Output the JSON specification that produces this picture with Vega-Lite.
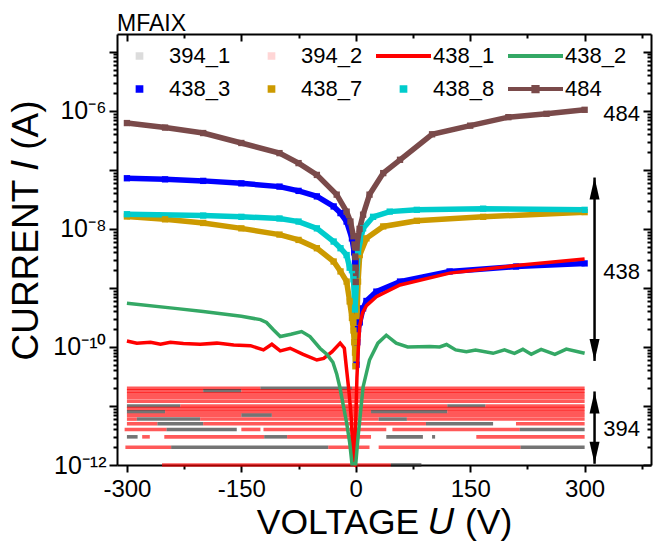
{
  "$schema": "https://vega.github.io/schema/vega-lite/v6.json",
  "width": 534,
  "height": 431,
  "autosize": {"type": "none"},
  "padding": {"left": 117, "top": 34, "right": 11, "bottom": 79},
  "background": "white",
  "config": {
    "view": {"stroke": null},
    "font": "Liberation Sans",
    "axis": {"grid": false, "domainColor": "black", "tickColor": "black", "labelColor": "black", "titleColor": "black", "labelFont": "Liberation Sans", "titleFont": "Liberation Sans", "titleFontWeight": "normal", "domainWidth": 2, "tickWidth": 2, "labelFlush": false, "labelOverlap": false}
  },
  "title": {"text": "MFAIX", "anchor": "start", "frame": "group", "fontSize": 23, "fontWeight": "normal", "font": "Liberation Sans", "color": "black", "offset": 4, "baseline": "alphabetic", "dy": 25},
  "datasets": {
    "bands": [
      {"s": "394_2", "i": 2e-11, "v0": -300, "v1": -125}, {"s": "394_1", "i": 2e-11, "v0": -125, "v1": -5}, {"s": "394_2", "i": 2e-11, "v0": -5, "v1": 300},
      {"s": "394_2", "i": 1.8e-11, "v0": -300, "v1": -200}, {"s": "394_1", "i": 1.8e-11, "v0": -200, "v1": -150}, {"s": "394_2", "i": 1.8e-11, "v0": -150, "v1": 300},
      {"s": "394_2", "i": 1.6e-11, "v0": -300, "v1": 300},
      {"s": "394_2", "i": 1.4e-11, "v0": -300, "v1": 300},
      {"s": "394_2", "i": 1.2e-11, "v0": -300, "v1": 300},
      {"s": "394_1", "i": 1e-11, "v0": -300, "v1": -230}, {"s": "394_2", "i": 1e-11, "v0": -230, "v1": 120}, {"s": "394_1", "i": 1e-11, "v0": 120, "v1": 170}, {"s": "394_2", "i": 1e-11, "v0": 170, "v1": 300},
      {"s": "394_2", "i": 9e-12, "v0": -300, "v1": 300},
      {"s": "394_1", "i": 8e-12, "v0": -300, "v1": -250}, {"s": "394_2", "i": 8e-12, "v0": -250, "v1": 20}, {"s": "394_1", "i": 8e-12, "v0": 20, "v1": 120}, {"s": "394_2", "i": 8e-12, "v0": 120, "v1": 300},
      {"s": "394_2", "i": 7e-12, "v0": -300, "v1": -150}, {"s": "394_1", "i": 7e-12, "v0": -150, "v1": -110}, {"s": "394_2", "i": 7e-12, "v0": -110, "v1": 300},
      {"s": "394_2", "i": 6e-12, "v0": -300, "v1": -287}, {"s": "394_1", "i": 6e-12, "v0": -287, "v1": -204}, {"s": "394_2", "i": 6e-12, "v0": -204, "v1": 30}, {"s": "394_1", "i": 6e-12, "v0": 30, "v1": 67}, {"s": "394_2", "i": 6e-12, "v0": 67, "v1": 300},
      {"s": "394_2", "i": 5e-12, "v0": -300, "v1": -260}, {"s": "394_1", "i": 5e-12, "v0": -260, "v1": -200}, {"s": "394_2", "i": 5e-12, "v0": -200, "v1": 92}, {"s": "394_1", "i": 5e-12, "v0": 92, "v1": 180}, {"s": "394_2", "i": 5e-12, "v0": 210, "v1": 300},
      {"s": "394_2", "i": 4e-12, "v0": -303, "v1": -248}, {"s": "394_1", "i": 4e-12, "v0": -248, "v1": -156}, {"s": "394_2", "i": 4e-12, "v0": -150, "v1": -125}, {"s": "394_2", "i": 4e-12, "v0": -121, "v1": 40}, {"s": "394_2", "i": 4e-12, "v0": 48, "v1": 215}, {"s": "394_1", "i": 4e-12, "v0": 215, "v1": 300},
      {"s": "394_1", "i": 3e-12, "v0": -300, "v1": -286}, {"s": "394_2", "i": 3e-12, "v0": -280, "v1": -270}, {"s": "394_2", "i": 3e-12, "v0": -251, "v1": -120}, {"s": "394_1", "i": 3e-12, "v0": -120, "v1": -90}, {"s": "394_2", "i": 3e-12, "v0": -90, "v1": 20}, {"s": "394_1", "i": 3e-12, "v0": 40, "v1": 88}, {"s": "394_1", "i": 3e-12, "v0": 100, "v1": 104}, {"s": "394_2", "i": 3e-12, "v0": 158, "v1": 300},
      {"s": "394_2", "i": 2e-12, "v0": -302, "v1": -242}, {"s": "394_1", "i": 2e-12, "v0": -242, "v1": -36}, {"s": "394_2", "i": 2e-12, "v0": -36, "v1": 18}, {"s": "394_2", "i": 2e-12, "v0": 30, "v1": 216}, {"s": "394_1", "i": 2e-12, "v0": 216, "v1": 300},
      {"s": "394_2", "i": 1e-12, "v0": -254, "v1": 46}, {"s": "394_1", "i": 1e-12, "v0": 46, "v1": 86}
    ],
    "curves": [
      {"s": "438_1", "v": -300, "i": 1.26e-10}, {"s": "438_1", "v": -287, "i": 1.16e-10}, {"s": "438_1", "v": -269, "i": 1.2e-10}, {"s": "438_1", "v": -256, "i": 1.11e-10}, {"s": "438_1", "v": -243, "i": 1.2e-10}, {"s": "438_1", "v": -226, "i": 1.14e-10}, {"s": "438_1", "v": -204, "i": 1.11e-10}, {"s": "438_1", "v": -182, "i": 1.16e-10}, {"s": "438_1", "v": -160, "i": 1.08e-10}, {"s": "438_1", "v": -138, "i": 1.05e-10}, {"s": "438_1", "v": -121, "i": 8.9e-11}, {"s": "438_1", "v": -110, "i": 1.11e-10}, {"s": "438_1", "v": -99, "i": 8.55e-11}, {"s": "438_1", "v": -86, "i": 9.5e-11}, {"s": "438_1", "v": -69, "i": 7.5e-11}, {"s": "438_1", "v": -51, "i": 6.0e-11}, {"s": "438_1", "v": -42, "i": 6.4e-11}, {"s": "438_1", "v": -31, "i": 8.3e-11}, {"s": "438_1", "v": -20.5, "i": 1.16e-10}, {"s": "438_1", "v": -15, "i": 9.5e-11}, {"s": "438_1", "v": -12, "i": 4.1e-11}, {"s": "438_1", "v": -9, "i": 1.8e-11}, {"s": "438_1", "v": -5.7, "i": 5.8e-12}, {"s": "438_1", "v": -3.5, "i": 1.1e-12}, {"s": "438_1", "v": -2, "i": 1.05e-12}, {"s": "438_1", "v": 0, "i": 5.8e-12}, {"s": "438_1", "v": 1.5, "i": 3e-11}, {"s": "438_1", "v": 3, "i": 7.9e-11}, {"s": "438_1", "v": 5.2, "i": 2.3e-10}, {"s": "438_1", "v": 9, "i": 3.8e-10}, {"s": "438_1", "v": 14, "i": 5.0e-10}, {"s": "438_1", "v": 27, "i": 7.1e-10}, {"s": "438_1", "v": 58, "i": 1.12e-9}, {"s": "438_1", "v": 123, "i": 1.78e-9}, {"s": "438_1", "v": 210, "i": 2.4e-9}, {"s": "438_1", "v": 300, "i": 3.1e-9},
      {"s": "438_2", "v": -300, "i": 5.5e-10}, {"s": "438_2", "v": -237, "i": 4.5e-10}, {"s": "438_2", "v": -200, "i": 4.0e-10}, {"s": "438_2", "v": -150, "i": 3.3e-10}, {"s": "438_2", "v": -125, "i": 2.9e-10}, {"s": "438_2", "v": -117, "i": 2.6e-10}, {"s": "438_2", "v": -108, "i": 1.95e-10}, {"s": "438_2", "v": -99, "i": 1.5e-10}, {"s": "438_2", "v": -85, "i": 1.64e-10}, {"s": "438_2", "v": -71, "i": 1.82e-10}, {"s": "438_2", "v": -60, "i": 1.5e-10}, {"s": "438_2", "v": -47, "i": 9.5e-11}, {"s": "438_2", "v": -38, "i": 7.5e-11}, {"s": "438_2", "v": -30, "i": 5.5e-11}, {"s": "438_2", "v": -25, "i": 3.5e-11}, {"s": "438_2", "v": -21, "i": 2.1e-11}, {"s": "438_2", "v": -12, "i": 5.2e-12}, {"s": "438_2", "v": -8, "i": 2.4e-12}, {"s": "438_2", "v": -5, "i": 1.05e-12}, {"s": "438_2", "v": 0, "i": 1.05e-12}, {"s": "438_2", "v": 3, "i": 3e-12}, {"s": "438_2", "v": 9.6, "i": 2.1e-11}, {"s": "438_2", "v": 18, "i": 6e-11}, {"s": "438_2", "v": 29, "i": 1.16e-10}, {"s": "438_2", "v": 40, "i": 1.58e-10}, {"s": "438_2", "v": 53, "i": 1.16e-10}, {"s": "438_2", "v": 68, "i": 1.0e-10}, {"s": "438_2", "v": 97, "i": 1.02e-10}, {"s": "438_2", "v": 110, "i": 1.0e-10}, {"s": "438_2", "v": 119, "i": 1.1e-10}, {"s": "438_2", "v": 131, "i": 8.9e-11}, {"s": "438_2", "v": 145, "i": 8.3e-11}, {"s": "438_2", "v": 157, "i": 8.9e-11}, {"s": "438_2", "v": 180, "i": 7.8e-11}, {"s": "438_2", "v": 195, "i": 8.9e-11}, {"s": "438_2", "v": 208, "i": 7.8e-11}, {"s": "438_2", "v": 219, "i": 9.1e-11}, {"s": "438_2", "v": 230, "i": 7.5e-11}, {"s": "438_2", "v": 243, "i": 9.1e-11}, {"s": "438_2", "v": 261, "i": 7.5e-11}, {"s": "438_2", "v": 276, "i": 9.2e-11}, {"s": "438_2", "v": 300, "i": 7.8e-11},
      {"s": "438_3", "v": -300, "i": 7.2e-8}, {"s": "438_3", "v": -250, "i": 6.9e-8}, {"s": "438_3", "v": -200, "i": 6.5e-8}, {"s": "438_3", "v": -150, "i": 5.9e-8}, {"s": "438_3", "v": -100, "i": 5.2e-8}, {"s": "438_3", "v": -75, "i": 4.4e-8}, {"s": "438_3", "v": -51, "i": 3.55e-8}, {"s": "438_3", "v": -29, "i": 2.4e-8}, {"s": "438_3", "v": -20, "i": 1.85e-8}, {"s": "438_3", "v": -12, "i": 1.33e-8}, {"s": "438_3", "v": -5, "i": 6.9e-9}, {"s": "438_3", "v": -2, "i": 4e-9}, {"s": "438_3", "v": -1, "i": 2.6e-9}, {"s": "438_3", "v": 1, "i": 5e-11}, {"s": "438_3", "v": 2, "i": 1.2e-10}, {"s": "438_3", "v": 3, "i": 2.0e-10}, {"s": "438_3", "v": 5.2, "i": 2.6e-10}, {"s": "438_3", "v": 9.6, "i": 4.5e-10}, {"s": "438_3", "v": 14, "i": 6.0e-10}, {"s": "438_3", "v": 27, "i": 8.65e-10}, {"s": "438_3", "v": 58, "i": 1.28e-9}, {"s": "438_3", "v": 123, "i": 1.9e-9}, {"s": "438_3", "v": 210, "i": 2.3e-9}, {"s": "438_3", "v": 300, "i": 2.6e-9},
      {"s": "438_7", "v": -300, "i": 1.62e-8}, {"s": "438_7", "v": -250, "i": 1.45e-8}, {"s": "438_7", "v": -200, "i": 1.26e-8}, {"s": "438_7", "v": -150, "i": 1.02e-8}, {"s": "438_7", "v": -100, "i": 8.0e-9}, {"s": "438_7", "v": -75, "i": 6.5e-9}, {"s": "438_7", "v": -51, "i": 4.7e-9}, {"s": "438_7", "v": -29, "i": 2.8e-9}, {"s": "438_7", "v": -20, "i": 1.9e-9}, {"s": "438_7", "v": -12, "i": 1.28e-9}, {"s": "438_7", "v": -8, "i": 5.9e-10}, {"s": "438_7", "v": -5, "i": 3.1e-10}, {"s": "438_7", "v": -3, "i": 1.9e-10}, {"s": "438_7", "v": -2, "i": 1.2e-10}, {"s": "438_7", "v": -1, "i": 8e-11}, {"s": "438_7", "v": -0.5, "i": 4.7e-11}, {"s": "438_7", "v": 3, "i": 1.28e-9}, {"s": "438_7", "v": 5.2, "i": 3.6e-9}, {"s": "438_7", "v": 14, "i": 6.9e-9}, {"s": "438_7", "v": 36, "i": 1.1e-8}, {"s": "438_7", "v": 80, "i": 1.37e-8}, {"s": "438_7", "v": 167, "i": 1.6e-8}, {"s": "438_7", "v": 300, "i": 1.92e-8},
      {"s": "438_8", "v": -300, "i": 1.77e-8}, {"s": "438_8", "v": -200, "i": 1.68e-8}, {"s": "438_8", "v": -150, "i": 1.6e-8}, {"s": "438_8", "v": -100, "i": 1.5e-8}, {"s": "438_8", "v": -75, "i": 1.33e-8}, {"s": "438_8", "v": -51, "i": 1.02e-8}, {"s": "438_8", "v": -29, "i": 6.1e-9}, {"s": "438_8", "v": -20, "i": 4.7e-9}, {"s": "438_8", "v": -12, "i": 3.6e-9}, {"s": "438_8", "v": -8, "i": 2.2e-9}, {"s": "438_8", "v": -5, "i": 2.0e-9}, {"s": "438_8", "v": -3, "i": 1.4e-9}, {"s": "438_8", "v": -1, "i": 4.3e-10}, {"s": "438_8", "v": 3, "i": 4.1e-9}, {"s": "438_8", "v": 9.6, "i": 1.02e-8}, {"s": "438_8", "v": 22.7, "i": 1.6e-8}, {"s": "438_8", "v": 44.5, "i": 1.96e-8}, {"s": "438_8", "v": 80, "i": 2.1e-8}, {"s": "438_8", "v": 167, "i": 2.2e-8}, {"s": "438_8", "v": 300, "i": 2.1e-8},
      {"s": "484", "v": -300, "i": 6.2e-7}, {"s": "484", "v": -250, "i": 5.2e-7}, {"s": "484", "v": -200, "i": 4.2e-7}, {"s": "484", "v": -150, "i": 2.85e-7}, {"s": "484", "v": -100, "i": 1.92e-7}, {"s": "484", "v": -75, "i": 1.3e-7}, {"s": "484", "v": -51, "i": 8.2e-8}, {"s": "484", "v": -25, "i": 3.8e-8}, {"s": "484", "v": -12, "i": 1.96e-8}, {"s": "484", "v": -7, "i": 1.33e-8}, {"s": "484", "v": -3, "i": 7.5e-9}, {"s": "484", "v": -1.5, "i": 5.4e-9}, {"s": "484", "v": -1, "i": 4.9e-9}, {"s": "484", "v": -0.7, "i": 3.4e-9}, {"s": "484", "v": -0.4, "i": 2.2e-9}, {"s": "484", "v": 0, "i": 1.26e-9}, {"s": "484", "v": 1, "i": 4.8e-9}, {"s": "484", "v": 5, "i": 1.0e-8}, {"s": "484", "v": 9.6, "i": 1.74e-8}, {"s": "484", "v": 18, "i": 3.8e-8}, {"s": "484", "v": 36, "i": 8.8e-8}, {"s": "484", "v": 58, "i": 1.48e-7}, {"s": "484", "v": 100, "i": 4.0e-7}, {"s": "484", "v": 150, "i": 5.6e-7}, {"s": "484", "v": 200, "i": 7.8e-7}, {"s": "484", "v": 250, "i": 8.9e-7}, {"s": "484", "v": 300, "i": 1.04e-6}
    ],
    "arrows": [
      {"g": "438", "v": 313, "top": 7.4e-8, "bot": 5.8e-11},
      {"g": "394", "v": 313, "top": 1.76e-11, "bot": 1.05e-12}
    ],
    "notes": [
      {"g": "484", "v": 348.5, "i": 9e-7},
      {"g": "438", "v": 348.5, "i": 1.87e-9},
      {"g": "394", "v": 348.5, "i": 4.15e-12}
    ]
  },
  "layer": [
    {
      "data": {"name": "bands"},
      "mark": {"type": "rule", "strokeWidth": 3.6, "opacity": 0.65, "strokeCap": "butt"},
      "encoding": {
        "x": {"field": "v0", "type": "quantitative", "scale": {"domain": [-313, 387], "nice": false, "zero": false},
          "axis": {"orient": "bottom", "values": [-300, -150, 0, 150, 300], "tickSize": 7, "labelFontSize": 24, "labelPadding": 5, "labelExpr": "'' + datum.value", "title": "VOLTAGE 𝑈 (V)", "titleFontSize": 35.5, "titlePadding": 4}},
        "x2": {"field": "v1"},
        "y": {"field": "i", "type": "quantitative", "scale": {"type": "log", "domain": [1e-12, 2e-5], "nice": false},
          "axis": {"orient": "left", "values": [1e-12, 1e-11, 1e-10, 1e-9, 1e-8, 1e-7, 1e-6, 1e-5], "tickSize": 8, "labelFontSize": 25, "labelPadding": 3, "labelExpr": "datum.value < 2e-12 ? '10⁻¹²' : (datum.value > 5e-11 && datum.value < 2e-10) ? '10⁻¹⁰' : (datum.value > 5e-9 && datum.value < 2e-8) ? '10⁻⁸' : (datum.value > 5e-7 && datum.value < 2e-6) ? '10⁻⁶' : ''", "title": "CURRENT 𝐼 (A)", "titleFontSize": 37, "titlePadding": 7, "titleY": 196}},
        "color": {"field": "s", "type": "nominal", "scale": {"domain": ["394_1", "394_2"], "range": ["#2a2a2a", "#ff0000"]}, "legend": null}
      }
    },
    {
      "data": {"name": "curves"},
      "transform": [{"filter": "indexof(['438_3', '438_7', '438_8', '484'], datum.s) >= 0"}],
      "mark": {"type": "line", "strokeWidth": 5.5},
      "encoding": {
        "x": {"field": "v", "type": "quantitative", "scale": {"domain": [-313, 387], "nice": false, "zero": false},
          "axis": {"orient": "bottom", "values": [-225, -75, 75, 225, 375], "tickSize": 4, "labels": false, "domain": false, "title": null}},
        "y": {"field": "i", "type": "quantitative", "scale": {"type": "log", "domain": [1e-12, 2e-5], "nice": false},
          "axis": {"orient": "left", "values": [2e-12, 3e-12, 4e-12, 5e-12, 6e-12, 7e-12, 8e-12, 9e-12, 2e-11, 3e-11, 4e-11, 5e-11, 6e-11, 7e-11, 8e-11, 9e-11, 2e-10, 3e-10, 4e-10, 5e-10, 6e-10, 7e-10, 8e-10, 9e-10, 2e-9, 3e-9, 4e-9, 5e-9, 6e-9, 7e-9, 8e-9, 9e-9, 2e-8, 3e-8, 4e-8, 5e-8, 6e-8, 7e-8, 8e-8, 9e-8, 2e-7, 3e-7, 4e-7, 5e-7, 6e-7, 7e-7, 8e-7, 9e-7, 2e-6, 3e-6, 4e-6, 5e-6, 6e-6, 7e-6, 8e-6, 9e-6], "tickSize": 4, "labels": false, "domain": false, "title": null}},
        "color": {"field": "s", "type": "nominal", "scale": {"domain": ["438_3", "438_7", "438_8", "484"], "range": ["#0000ff", "#cc9a00", "#00cccc", "#7a4a4a"]}, "legend": null}
      }
    },
    {
      "data": {"name": "curves"},
      "transform": [{"filter": "indexof(['438_3', '438_7', '438_8', '484'], datum.s) >= 0"}],
      "mark": {"type": "point", "shape": "square", "filled": true, "size": 40, "opacity": 1},
      "encoding": {
        "x": {"field": "v", "type": "quantitative", "scale": {"domain": [-313, 387], "nice": false, "zero": false},
          "axis": {"orient": "top", "values": [-300, -150, 0, 150, 300], "tickSize": -7, "labels": false, "title": null}},
        "y": {"field": "i", "type": "quantitative", "scale": {"type": "log", "domain": [1e-12, 2e-5], "nice": false},
          "axis": {"orient": "right", "values": [1e-12, 1e-11, 1e-10, 1e-9, 1e-8, 1e-7, 1e-6, 1e-5], "tickSize": -8, "labels": false, "title": null}},
        "color": {"field": "s", "type": "nominal", "scale": {"domain": ["438_3", "438_7", "438_8", "484"], "range": ["#0000ff", "#cc9a00", "#00cccc", "#7a4a4a"]}, "legend": null}
      }
    },
    {
      "data": {"name": "curves"},
      "transform": [{"filter": "datum.s === '438_1' || datum.s === '438_2'"}],
      "mark": {"type": "line", "strokeWidth": 3.5},
      "encoding": {
        "x": {"field": "v", "type": "quantitative", "scale": {"domain": [-313, 387], "nice": false, "zero": false},
          "axis": {"orient": "top", "values": [-225, -75, 75, 225, 375], "tickSize": -4, "labels": false, "domain": false, "title": null}},
        "y": {"field": "i", "type": "quantitative", "scale": {"type": "log", "domain": [1e-12, 2e-5], "nice": false},
          "axis": {"orient": "right", "values": [2e-12, 3e-12, 4e-12, 5e-12, 6e-12, 7e-12, 8e-12, 9e-12, 2e-11, 3e-11, 4e-11, 5e-11, 6e-11, 7e-11, 8e-11, 9e-11, 2e-10, 3e-10, 4e-10, 5e-10, 6e-10, 7e-10, 8e-10, 9e-10, 2e-9, 3e-9, 4e-9, 5e-9, 6e-9, 7e-9, 8e-9, 9e-9, 2e-8, 3e-8, 4e-8, 5e-8, 6e-8, 7e-8, 8e-8, 9e-8, 2e-7, 3e-7, 4e-7, 5e-7, 6e-7, 7e-7, 8e-7, 9e-7, 2e-6, 3e-6, 4e-6, 5e-6, 6e-6, 7e-6, 8e-6, 9e-6], "tickSize": -4, "labels": false, "domain": false, "title": null}},
        "color": {"field": "s", "type": "nominal", "scale": {"domain": ["438_1", "438_2"], "range": ["#ff0000", "#34a865"]}, "legend": null}
      }
    },
    {
      "data": {"name": "curves"},
      "transform": [{"filter": "datum.v > 1000"}],
      "mark": {"type": "point", "filled": true, "opacity": 1},
      "encoding": {
        "color": {"field": "s", "type": "nominal",
          "scale": {"domain": ["394_1", "394_2", "438_1", "438_2", "438_3", "438_7", "438_8", "484"], "range": ["#dcdcdc", "#ffd6d6", "#ff0000", "#34a865", "#0000ff", "#cc9a00", "#00cccc", "#7a4a4a"]},
          "legend": {"orient": "none", "legendX": -5, "legendY": 10, "direction": "horizontal", "columns": 4, "title": null, "symbolSize": 3025, "symbolStrokeWidth": 0, "clipHeight": 24, "labelFontSize": 22, "labelFont": "Liberation Sans", "labelColor": "black", "labelOffset": 2, "columnPadding": 13, "rowPadding": 9, "labelLimit": 200, "padding": 0, "symbolOpacity": 1}},
        "shape": {"field": "s", "type": "nominal",
          "scale": {"domain": ["394_1", "394_2", "438_1", "438_2", "438_3", "438_7", "438_8", "484"], "range": ["M-0.14,-0.14H0.14V0.14H-0.14Z", "M-0.14,-0.14H0.14V0.14H-0.14Z", "M-1,-0.075H1V0.075H-1Z", "M-1,-0.075H1V0.075H-1Z", "M-0.14,-0.14H0.14V0.14H-0.14Z", "M-0.14,-0.14H0.14V0.14H-0.14Z", "M-0.14,-0.14H0.14V0.14H-0.14Z", "M-1,-0.075H1V0.075H-1ZM-0.15,-0.15H0.15V0.15H-0.15Z"]},
          "legend": {"orient": "none", "legendX": -5, "legendY": 10, "direction": "horizontal", "columns": 4, "title": null, "symbolSize": 3025, "symbolStrokeWidth": 0, "clipHeight": 24, "labelFontSize": 22, "labelFont": "Liberation Sans", "labelColor": "black", "labelOffset": 2, "columnPadding": 13, "rowPadding": 9, "labelLimit": 200, "padding": 0, "symbolOpacity": 1}}
      }
    },
    {
      "data": {"name": "arrows"},
      "mark": {"type": "rule", "strokeWidth": 2.5, "color": "black"},
      "encoding": {
        "x": {"field": "v", "type": "quantitative", "axis": null},
        "y": {"field": "top", "type": "quantitative", "axis": null},
        "y2": {"field": "bot"}
      }
    },
    {
      "data": {"name": "arrows"},
      "mark": {"type": "point", "shape": "M0,0L-0.5,2.2L0.5,2.2Z", "size": 400, "filled": true, "color": "black", "opacity": 1},
      "encoding": {
        "x": {"field": "v", "type": "quantitative", "axis": null},
        "y": {"field": "top", "type": "quantitative", "axis": null}
      }
    },
    {
      "data": {"name": "arrows"},
      "mark": {"type": "point", "shape": "M0,0L-0.5,-2.2L0.5,-2.2Z", "size": 400, "filled": true, "color": "black", "opacity": 1},
      "encoding": {
        "x": {"field": "v", "type": "quantitative", "axis": null},
        "y": {"field": "bot", "type": "quantitative", "axis": null}
      }
    },
    {
      "data": {"name": "notes"},
      "mark": {"type": "text", "fontSize": 22, "font": "Liberation Sans", "color": "black", "align": "center", "baseline": "middle"},
      "encoding": {
        "x": {"field": "v", "type": "quantitative", "axis": null},
        "y": {"field": "i", "type": "quantitative", "axis": null},
        "text": {"field": "g"}
      }
    }
  ],
  "resolve": {"axis": {"x": "independent", "y": "independent"}, "scale": {"color": "independent", "shape": "independent"}}
}
